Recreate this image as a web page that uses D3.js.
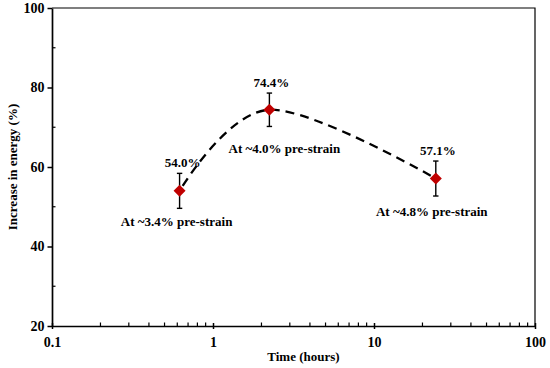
<!DOCTYPE html>
<html>
<head>
<meta charset="utf-8">
<script src="https://cdn.jsdelivr.net/npm/d3@7"></script>
<style>
  body { margin: 0; background: #fff; }
  text { font-family: "Liberation Serif", "Times New Roman", serif; font-weight: bold; fill: #000; }
</style>
</head>
<body>
<svg width="550" height="368"></svg>
<script>

// data
var times = [0.62, 2.24, 24.2];          // hours
var gains = [54.0, 74.4, 57.1];          // increase in energy (%)
var errs = [4.4, 4.2, 4.4];
var valueLabels = ["54.0%", "74.4%", "57.1%"];
var strainLabels = ["At ~3.4% pre-strain", "At ~4.0% pre-strain", "At ~4.8% pre-strain"];

var xTicks = [0.1, 1, 10, 100];
var yTicks = [20, 40, 60, 80, 100];
var yMinor = [30, 50, 70, 90];

var margin = {top: 8, right: 15, bottom: 42, left: 52};

var svg = d3.select("svg");
var width = +svg.attr("width") - margin.left - margin.right;
var height = +svg.attr("height") - margin.top - margin.bottom;

var g = svg.append("g")
    .attr("transform", "translate(" + margin.left + "," + margin.top + ")");

var x = d3.scaleLog()
    .domain([0.1, 100])
    .range([0, width]);

var y = d3.scaleLinear()
    .domain([20, 100])
    .range([height, 0]);

// minor log ticks 2..9 per decade
var xMinor = [];
[0.1, 1, 10].forEach(function(d) {
  for (var k = 2; k <= 9; k++) xMinor.push(d * k);
});

// frame (top + right)
g.append("path")
    .attr("d", "M0,0H" + width + "V" + height)
    .attr("fill", "none")
    .attr("stroke", "#000")
    .attr("stroke-width", 1.2);

// minor ticks, drawn inside
g.selectAll(".xminor").data(xMinor).enter().append("line")
    .attr("x1", function(d) { return x(d); })
    .attr("x2", function(d) { return x(d); })
    .attr("y1", height)
    .attr("y2", height - 3.5)
    .attr("stroke", "#000")
    .attr("stroke-width", 1.2);

g.selectAll(".yminor").data(yMinor).enter().append("line")
    .attr("x1", 0)
    .attr("x2", 3.5)
    .attr("y1", function(d) { return y(d); })
    .attr("y2", function(d) { return y(d); })
    .attr("stroke", "#000")
    .attr("stroke-width", 1.2);

// axes
var xAxis = g.append("g")
    .attr("transform", "translate(0," + height + ")")
    .call(d3.axisBottom(x).tickValues(xTicks).tickFormat(d3.format("")).tickSize(3).tickPadding(8).tickSizeOuter(0));

xAxis.selectAll(".tick line").attr("y1", -3).attr("stroke-width", 1.5);

var yAxis = g.append("g")
    .call(d3.axisLeft(y).tickValues(yTicks).tickSize(4.5).tickPadding(3).tickSizeOuter(0));

yAxis.selectAll(".tick line").attr("stroke-width", 1.5);

[xAxis, yAxis].forEach(function(a) {
  a.select(".domain").attr("stroke-width", 1.7);
  a.selectAll("text")
      .attr("font-size", 14)
      .attr("font-family", null)
      .attr("fill", "#000");
});

// dashed smooth trend through the points
var line = d3.line()
    .x(function(d, i) { return x(times[i]); })
    .y(function(d) { return y(d); })
    .curve(d3.curveCardinal);

g.append("path")
    .datum(gains)
    .attr("d", line)
    .attr("fill", "none")
    .attr("stroke", "#000")
    .attr("stroke-width", 2.3)
    .attr("stroke-dasharray", "9,6")
    .attr("stroke-dashoffset", -6);

// error bars
var eb = g.selectAll(".err").data(gains).enter().append("g")
    .attr("stroke", "#000")
    .attr("stroke-width", 1.4);

eb.append("line")
    .attr("x1", function(d, i) { return x(times[i]); })
    .attr("x2", function(d, i) { return x(times[i]); })
    .attr("y1", function(d, i) { return y(d - errs[i]); })
    .attr("y2", function(d, i) { return y(d + errs[i]); });

[-1, 1].forEach(function(s) {
  eb.append("line")
      .attr("x1", function(d, i) { return x(times[i]) - 2.7; })
      .attr("x2", function(d, i) { return x(times[i]) + 2.7; })
      .attr("y1", function(d, i) { return y(d + s * errs[i]); })
      .attr("y2", function(d, i) { return y(d + s * errs[i]); });
});

// diamond markers
g.selectAll(".pt").data(gains).enter().append("path")
    .attr("d", "M0,-6L6,0L0,6L-6,0Z")
    .attr("transform", function(d, i) { return "translate(" + x(times[i]) + "," + y(d) + ")"; })
    .attr("fill", "#c00000");

// value labels
var valDx = [3, 2, 2];
g.selectAll(".val").data(gains).enter().append("text")
    .attr("x", function(d, i) { return x(times[i]) + valDx[i]; })
    .attr("y", function(d, i) { return y(d + errs[i]) - 6; })
    .attr("text-anchor", "middle")
    .attr("font-size", 13)
    .text(function(d, i) { return valueLabels[i]; });

// pre-strain labels
var strDx = [-3, 15, -4];
var strDy = [35, 43, 37];
g.selectAll(".str").data(gains).enter().append("text")
    .attr("x", function(d, i) { return x(times[i]) + strDx[i]; })
    .attr("y", function(d, i) { return y(d) + strDy[i]; })
    .attr("text-anchor", "middle")
    .attr("font-size", 13)
    .text(function(d, i) { return strainLabels[i]; });

// axis titles
svg.append("text")
    .attr("x", margin.left + width / 2 + 10)
    .attr("y", 361)
    .attr("text-anchor", "middle")
    .attr("font-size", 13)
    .text("Time (hours)");

svg.append("text")
    .attr("transform", "translate(17," + (margin.top + height / 2) + ") rotate(-90)")
    .attr("text-anchor", "middle")
    .attr("font-size", 13)
    .text("Increase in energy (%)");

</script>
</body>
</html>
